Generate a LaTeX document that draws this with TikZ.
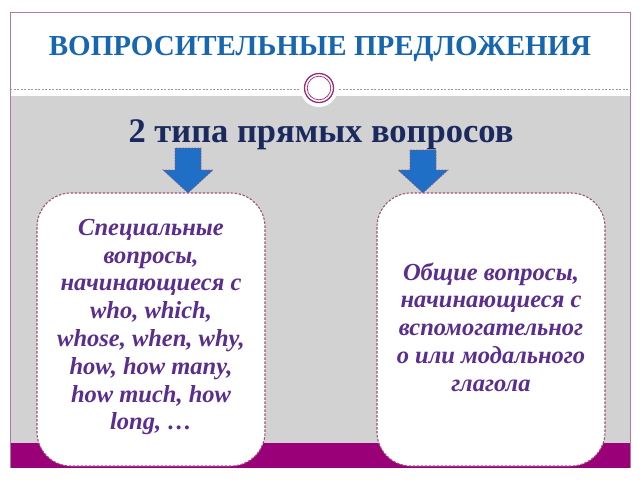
\documentclass[tikz,border=0pt]{standalone}
\usepackage{fontspec}
\setmainfont{Liberation Serif}
\definecolor{bggray}{HTML}{D2D2D2}
\definecolor{barpurple}{HTML}{9A0077}
\definecolor{framepink}{HTML}{B27AA3}
\definecolor{titleblue}{HTML}{1766B0}
\definecolor{subnavy}{HTML}{1B2A5E}
\definecolor{boxtext}{HTML}{5A2D8E}
\definecolor{arrowblue}{HTML}{1E6FC5}
\definecolor{dashpink}{HTML}{9E5478}
\definecolor{ringpurple}{HTML}{982A78}
\tikzset{
  qbox/.style={draw=dashpink, dashed, dash pattern=on 2.5pt off 1.5pt, line width=1.1pt, fill=white, rounded corners=34pt},
  qtext/.style={text=boxtext, font=\fontsize{24.5}{27.8}\selectfont\bfseries\itshape, align=center},
  downarrow/.style={fill=arrowblue, draw=dashpink, dashed, dash pattern=on 1.5pt off 1.5pt, line width=0.6pt}
}
\begin{document}
\begin{tikzpicture}[x=1pt,y=-1pt]
\useasboundingbox (0,0) rectangle (640,480);
\fill[white] (0,0) rectangle (640,480);
% gray band and purple bar
\fill[bggray] (10,96) rectangle (630,444);
\fill[barpurple] (10,443) rectangle (630,468);
% frame
\draw[framepink, line width=0.7pt] (10,468) -- (10,12) -- (630,12) -- (630,468);
% dashed separator
\draw[gray!80, dashed, dash pattern=on 2pt off 1.5pt, line width=0.5pt] (10,89) -- (630,89);
% circle ornament
\fill[white] (319,88) circle (19);
\draw[ringpurple, line width=1.3pt] (319,88) circle (14.5);
\draw[ringpurple, line width=0.7pt] (319,88) circle (11.8);
% title
\node[text=titleblue, font=\fontsize{29}{34}\selectfont\bfseries] (title) at (320,49) {ВОПРОСИТЕЛЬНЫЕ ПРЕДЛОЖЕНИЯ};
% subtitle
\node[text=subnavy, font=\fontsize{34.5}{40}\selectfont\bfseries] (sub) at (321,135) {2 типа прямых вопросов};
% boxes
\draw[qbox] (37,193) rectangle (265,466);
\draw[qbox] (377,193) rectangle (605,466);
\node[qtext] (special) at (151,327) {Специальные\\вопросы,\\начинающиеся с\\who, which,\\whose, when, why,\\how, how many,\\how much, how\\long, …};
\node[qtext] (general) at (491,327) {Общие вопросы,\\начинающиеся с\\вспомогательног\\о или модального\\глагола};
% arrows
\coordinate (la) at (188,148);
\coordinate (ra) at (423,150);
\draw[downarrow] ([xshift=-13]la) -- ++(0,22) -- ++(-12,0) -- (188,193) -- ([xshift=25]la |- 0,170) -- ++(-12,0) -- ([xshift=13]la) -- cycle;
\draw[downarrow] ([xshift=-13]ra) -- ++(0,20) -- ++(-12,0) -- (423,193) -- ([xshift=25]ra |- 0,170) -- ++(-12,0) -- ([xshift=13]ra) -- cycle;
\end{tikzpicture}
\end{document}
